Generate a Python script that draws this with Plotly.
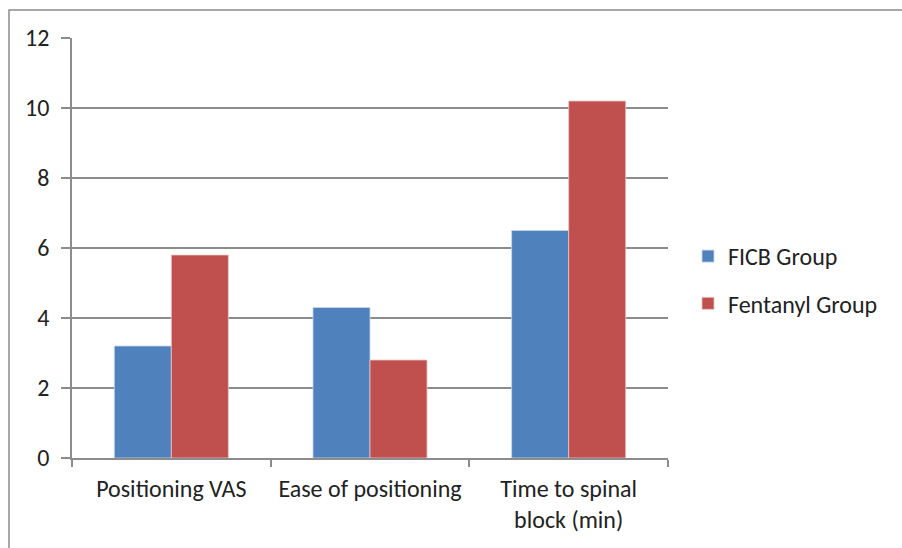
import plotly.graph_objects as go

categories = ["Positioning VAS", "Ease of positioning", "Time to spinal<br>block (min)"]
ficb_group = [3.2, 4.3, 6.5]
fentanyl_group = [5.8, 2.8, 10.2]
y_ticks = [0, 2, 4, 6, 8, 10, 12]

font_family = "Carlito, Calibri, Lato, 'Open Sans', sans-serif"
grid_color = "#8c8c8c"
text_color = "#222222"

fig = go.Figure()
fig.add_trace(go.Bar(
    name="FICB Group", x=categories, y=ficb_group,
    marker=dict(color="#4F81BD", line=dict(color="#c9d6ea", width=0.8)),
    legendgroup="a",
))
fig.add_trace(go.Bar(
    name="Fentanyl Group", x=categories, y=fentanyl_group,
    marker=dict(color="#C0504D", line=dict(color="#ecc5c4", width=0.8)),
    legendgroup="b",
))

L, R, T, B = 72, 234, 38, 90
W, H = 902, 548
pw, ph = W - L - R, H - T - B

fig.update_layout(
    width=W, height=H,
    margin=dict(l=L, r=R, t=T, b=B, autoexpand=False),
    paper_bgcolor="white", plot_bgcolor="white",
    font=dict(family=font_family, size=22, color=text_color),
    barmode="group", bargap=0.426, bargroupgap=0,
    legend=dict(
        x=(688 - L) / pw, y=(H - B - 280) / ph,
        xanchor="left", yanchor="middle",
        font=dict(size=24, color=text_color),
        tracegroupgap=13, bgcolor="rgba(0,0,0,0)",
    ),
    xaxis=dict(
        showgrid=False, showline=True, linecolor=grid_color, linewidth=1.5,
        ticks="outside", tickson="boundaries", ticklen=7, tickcolor=grid_color,
        tickwidth=1.5, ticklabelstandoff=8,
        tickfont=dict(size=24, color=text_color),
    ),
    yaxis=dict(
        range=[0, 12], tickvals=y_ticks, showgrid=True, gridcolor=grid_color,
        gridwidth=1.5, showline=True, linecolor=grid_color, linewidth=1.5,
        ticks="outside", ticklen=9, tickcolor=grid_color, tickwidth=1.5,
        ticklabelstandoff=7, tickfont=dict(size=24, color=text_color),
        zeroline=False,
    ),
    shapes=[dict(
        type="rect", xref="paper", yref="paper",
        x0=(9 - L) / pw, x1=(W + 5 - L) / pw,
        y0=(H - B - (H + 5)) / ph, y1=(H - B - 10) / ph,
        line=dict(color="#8c8c8c", width=1.5), fillcolor="rgba(0,0,0,0)",
        layer="below",
    )],
)

fig.write_html("out.html")
